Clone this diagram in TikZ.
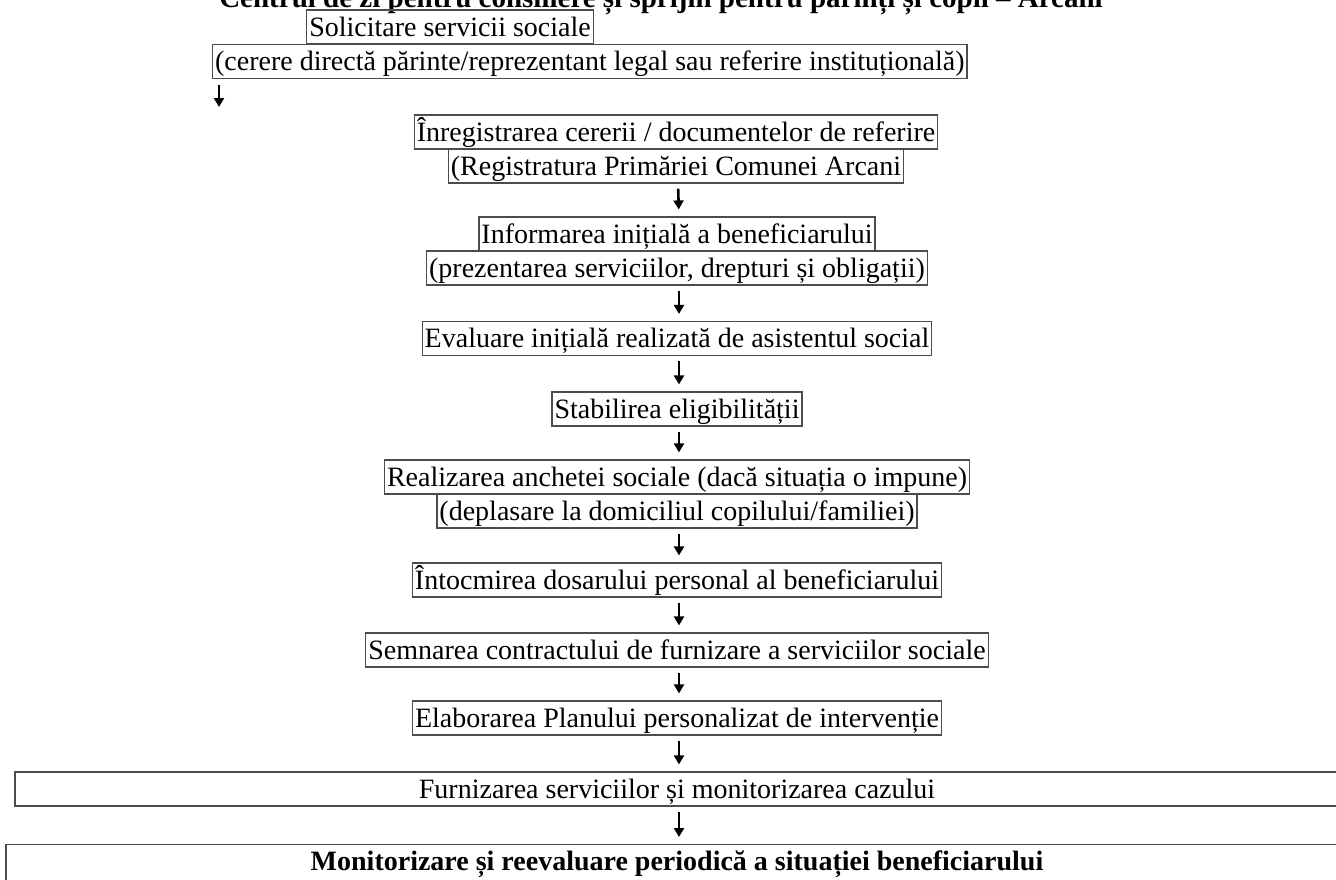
\documentclass[tikz,border=0pt]{standalone}
\usepackage{fontspec}
\setmainfont{Liberation Serif}
\usetikzlibrary{arrows.meta}
\begin{document}
\begin{tikzpicture}[x=1pt,y=1pt,
  box/.style={draw=black!70, line width=1.2pt, inner xsep=2.5pt, inner ysep=1.5pt,
    text height=24.5pt, text depth=6.5pt, font=\fontsize{28}{34}\selectfont},
  widebox/.style={box, minimum width=1324pt},
  arr/.style={line width=2.6pt, -{Triangle[width=10pt,length=9pt]}, shorten <=5pt, shorten >=7pt}
]
\useasboundingbox (0,0) rectangle (1336,-879);
\clip (0,0) rectangle (1336,-879);
\fill[white] (0,0) rectangle (1336,-879);

\node[font=\bfseries\fontsize{29}{34}\selectfont, anchor=base, inner sep=0pt] (title) at (661,-7)
  {Centrul de zi pentru consiliere și sprijin pentru părinți și copii – Arcani};

\node[box] (b1) at (450,-27) {Solicitare servicii sociale};
\node[box, anchor=west] (b2) at (212,-61.5) {(cerere directă părinte/reprezentant legal sau referire instituțională)};
\coordinate (a1) at (219,-107);

\node[box] (b3) at (676,-132) {Înregistrarea cererii / documentelor de referire};
\node[box] (b4) at (676,-166) {(Registratura Primăriei Comunei Arcani};
\node[box] (b5) at (677,-234) {Informarea inițială a beneficiarului};
\node[box] (b6) at (677,-268) {(prezentarea serviciilor, drepturi și obligații)};
\node[box] (b7) at (677,-338.5) {Evaluare inițială realizată de asistentul social};
\node[box] (b8) at (677,-409) {Stabilirea eligibilității};
\node[box] (b9) at (677,-477) {Realizarea anchetei sociale (dacă situația o impune)};
\node[box] (b10) at (677,-511) {(deplasare la domiciliul copilului/familiei)};
\node[box] (b11) at (677,-580) {Întocmirea dosarului personal al beneficiarului};
\node[box] (b12) at (677,-650) {Semnarea contractului de furnizare a serviciilor sociale};
\node[box] (b13) at (677,-718) {Elaborarea Planului personalizat de intervenție};
\node[widebox] (b14) at (677,-789) {Furnizarea serviciilor și monitorizarea cazului};
\node[box, minimum width=1342pt, text depth=20pt, anchor=north,
  font=\bfseries\fontsize{28}{34}\selectfont] (b15) at (677,-844)
  {Monitorizare și reevaluare periodică a situației beneficiarului};

\draw[arr, shorten <=6pt, shorten >=0pt] (b2.south west -| a1) -- (a1);
\draw[arr] ([xshift=2pt]b4.south) -- ([xshift=2pt]b5.north);
\draw[arr] ([xshift=2pt]b6.south) -- ([xshift=2pt]b7.north);
\draw[arr] ([xshift=2pt]b7.south) -- ([xshift=2pt]b8.north);
\draw[arr] ([xshift=2pt]b8.south) -- ([xshift=2pt]b9.north);
\draw[arr] ([xshift=2pt]b10.south) -- ([xshift=2pt]b11.north);
\draw[arr] ([xshift=2pt]b11.south) -- ([xshift=2pt]b12.north);
\draw[arr] ([xshift=2pt]b12.south) -- ([xshift=2pt]b13.north);
\draw[arr] ([xshift=2pt]b13.south) -- ([xshift=2pt]b14.north);
\draw[arr] ([xshift=2pt]b14.south) -- ([xshift=2pt]b15.north);
\end{tikzpicture}
\end{document}
